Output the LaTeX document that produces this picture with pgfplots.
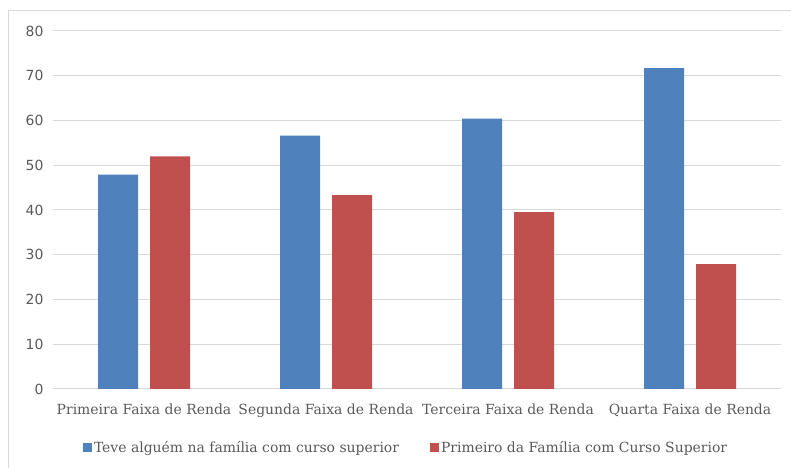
\documentclass[border=0pt]{standalone}
\usepackage{pgfplots}
\pgfplotsset{compat=1.18}
\usepackage{fontspec}
\setmainfont{DejaVu Serif}
\newfontfamily\ticksans{DejaVu Sans}
\definecolor{cblue}{HTML}{4F81BD}
\definecolor{cred}{HTML}{C0504D}
\definecolor{cgrid}{HTML}{D9D9D9}
\definecolor{ctext}{HTML}{595959}
\begin{document}
\begin{tikzpicture}[x=1bp,y=1bp]
\useasboundingbox (0,0) rectangle (791,468);
\draw[cgrid, line width=1bp] (8,-2) -- (8,457) -- (795,457);
\begin{axis}[
  at={(53bp,79bp)}, anchor=south west,
  width=728bp, height=358bp, scale only axis,
  xmin=-0.5, xmax=3.5, ymin=0, ymax=80,
  ytick={0,10,...,80},
  xtick={0,1,2,3},
  xticklabels={Primeira Faixa de Renda, Segunda Faixa de Renda, Terceira Faixa de Renda, Quarta Faixa de Renda},
  ymajorgrids, grid style={cgrid, line width=1bp},
  axis line style={draw=none},
  major tick length=0pt,
  /pgf/number format/assume math mode=true,
  xticklabel style={font=\fontsize{14}{16}\selectfont, text=ctext, yshift=-11bp},
  yticklabel style={font=\ticksans\fontsize{14}{16}\selectfont, text=ctext, xshift=-6bp},
  ybar=12bp, bar width=40bp,
  legend style={at={(0.485,-0.135)}, anchor=north, legend columns=2, draw=none,
    font=\fontsize{14}{16}\selectfont, text=ctext,
    /tikz/every even column/.append style={column sep=29bp}},
  legend image code/.code={\fill[#1] (0bp,-4.5bp) rectangle (9bp,4.5bp);},
]
\addplot[fill=cblue, draw=none] coordinates {(0,47.9) (1,56.6) (2,60.4) (3,71.7)};
\addplot[fill=cred, draw=none] coordinates {(0,52.0) (1,43.3) (2,39.5) (3,27.9)};
\legend{Teve alguém na família com curso superior, Primeiro da Família com Curso Superior}
\end{axis}
\end{tikzpicture}
\end{document}
